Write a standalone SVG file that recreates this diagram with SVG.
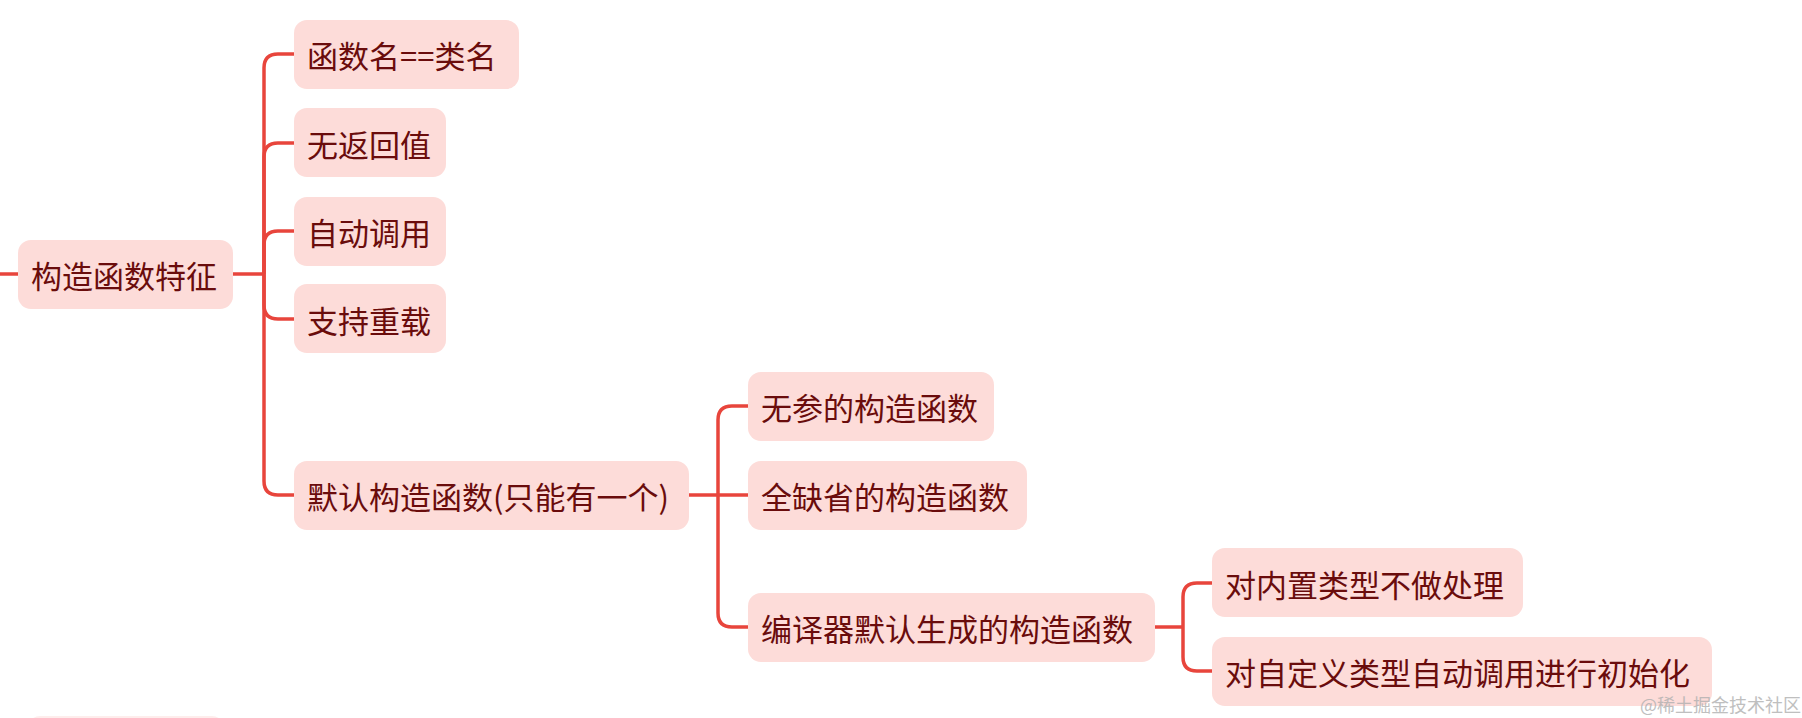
<svg xmlns="http://www.w3.org/2000/svg" width="1802" height="718" viewBox="0 0 1802 718">
<style>
.n rect{fill:#fddcd9;}
.n text{font-family:"Noto Sans CJK SC","Liberation Sans",sans-serif;font-size:31px;fill:#6a0c0c;dominant-baseline:central;}
.c path{fill:none;stroke:#e8453c;stroke-width:3.5;}
</style>
<rect width="1802" height="718" fill="#fff"/>
<rect x="28" y="-60" width="196" height="60" rx="12" fill="#fddcd9" opacity="0.5"/>
<rect x="28" y="716" width="196" height="60" rx="12" fill="#fddcd9" opacity="0.5"/>
<g class="c">
<path d="M0,274 L18,274"/>
<path d="M233,274 L264,274"/>
<path d="M264,274 L264,68 Q264,54 278,54 L294,54"/>
<path d="M264,274 L264,157 Q264,143 278,143 L294,143"/>
<path d="M264,274 L264,245 Q264,231 278,231 L294,231"/>
<path d="M264,274 L264,305 Q264,319 278,319 L294,319"/>
<path d="M264,274 L264,481 Q264,495 278,495 L294,495"/>
<path d="M689,495 L748,495"/>
<path d="M718,495 L718,420 Q718,406 732,406 L748,406"/>
<path d="M718,495 L718,613 Q718,627 732,627 L748,627"/>
<path d="M1155,627 L1183,627"/>
<path d="M1183,627 L1183,597 Q1183,583 1197,583 L1212,583"/>
<path d="M1183,627 L1183,657 Q1183,671 1197,671 L1212,671"/>
</g>
<g id="root" class="n"><rect x="18" y="240" width="215" height="69" rx="13"/><text x="31" y="274">构造函数特征</text></g>
<g id="n1" class="n"><rect x="294" y="20" width="225" height="69" rx="13"/><text x="307" y="54">函数名==类名</text></g>
<g id="n2" class="n"><rect x="294" y="108" width="152" height="69" rx="13"/><text x="307" y="143">无返回值</text></g>
<g id="n3" class="n"><rect x="294" y="197" width="152" height="69" rx="13"/><text x="307" y="231">自动调用</text></g>
<g id="n4" class="n"><rect x="294" y="284" width="152" height="69" rx="13"/><text x="307" y="319">支持重载</text></g>
<g id="n5" class="n"><rect x="294" y="461" width="395" height="69" rx="13"/><text x="307" y="495">默认构造函数(只能有一个)</text></g>
<g id="n6" class="n"><rect x="748" y="372" width="246" height="69" rx="13"/><text x="761" y="406">无参的构造函数</text></g>
<g id="n7" class="n"><rect x="748" y="461" width="279" height="69" rx="13"/><text x="761" y="495">全缺省的构造函数</text></g>
<g id="n8" class="n"><rect x="748" y="593" width="407" height="69" rx="13"/><text x="761" y="627">编译器默认生成的构造函数</text></g>
<g id="n9" class="n"><rect x="1212" y="548" width="311" height="69" rx="13"/><text x="1225" y="583">对内置类型不做处理</text></g>
<g id="n10" class="n"><rect x="1212" y="637" width="500" height="69" rx="13"/><text x="1225" y="671">对自定义类型自动调用进行初始化</text></g>
<text x="1640" y="712" font-family="Noto Sans CJK SC,sans-serif" font-size="18" fill="#b0b0b0" opacity="0.8">@稀土掘金技术社区</text>
</svg>
